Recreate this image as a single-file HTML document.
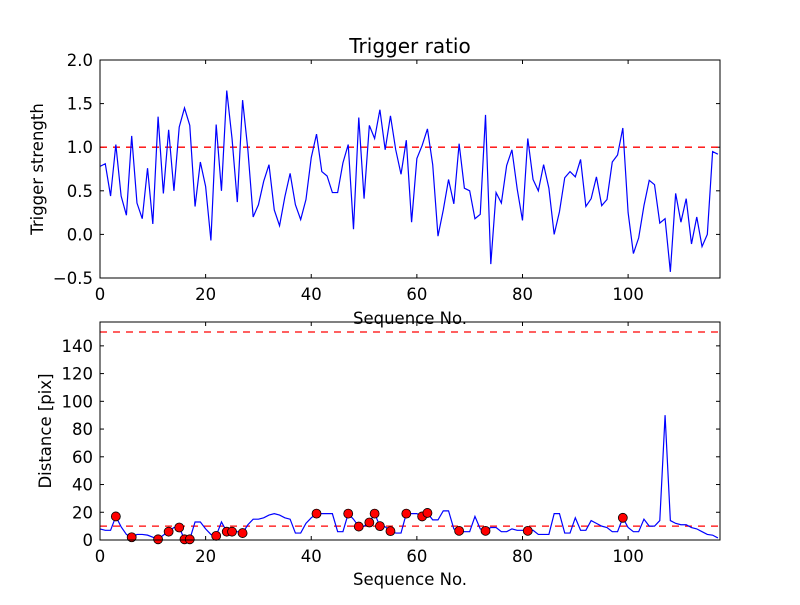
<!DOCTYPE html>
<html><head><meta charset="utf-8"><style>
body{margin:0;background:#fff}
svg text{font-family:"DejaVu Sans","Liberation Sans",sans-serif;fill:#000}
</style></head><body>
<svg id="c" width="800" height="600" xmlns="http://www.w3.org/2000/svg"></svg>
<script>
const trigger=[0.78,0.81,0.44,1.03,0.44,0.22,1.13,0.36,0.18,0.76,0.12,1.35,0.47,1.2,0.5,1.23,1.45,1.25,0.32,0.83,0.55,-0.07,1.26,0.5,1.65,1.1,0.37,1.54,0.97,0.2,0.34,0.61,0.8,0.28,0.1,0.43,0.7,0.34,0.17,0.4,0.88,1.15,0.72,0.67,0.48,0.48,0.82,1.03,0.06,1.34,0.41,1.25,1.1,1.43,0.97,1.36,0.97,0.69,1.08,0.14,0.87,1.02,1.21,0.8,-0.02,0.28,0.63,0.35,1.04,0.53,0.5,0.18,0.23,1.37,-0.34,0.48,0.36,0.79,0.97,0.52,0.16,1.1,0.63,0.5,0.8,0.53,0.0,0.26,0.65,0.72,0.66,0.86,0.32,0.41,0.66,0.33,0.4,0.83,0.91,1.22,0.25,-0.22,-0.04,0.33,0.62,0.57,0.13,0.18,-0.43,0.47,0.14,0.41,-0.11,0.2,-0.14,0.0,0.95,0.92];
const distance=[8,7,7,17,9.5,4,2,4,4,3.5,2,0.5,3.5,6,9,9,0.5,0.5,13,13,8,4,3,13,6,6,6,5,11,15,15,16,18,19,18,16,15,5,5,12,16,19,19,19,19,6,6,19,15,9.7,10,12.6,19,10,9.5,6.4,5,5,19,19,19,17,19.5,14.5,14.5,21,21,8,6.6,6,6,17,8,6.6,9,9,6,6,8,7,7,6.6,7,4,4,4,19,19,5,5,16,7,7,14,12,10,9,6,6,16,9,6,6,15,10,10,14,90,14,12,11,11,9,8,6,4,3.5,1.5];
const detIdx=[3,6,11,13,15,16,17,22,24,25,27,41,47,49,51,52,53,55,58,61,62,68,73,81,99];
const detVal=[17,2,0.5,6,9,0.5,0.5,3,6,6,5,19,19,9.7,12.6,19,10,6.4,19,17,19.5,6.6,6.6,6.6,16];
const xTicks=[0,20,40,60,80,100];
const yTicksTop=[-0.5,0.0,0.5,1.0,1.5,2.0];
const yTicksBot=[0,20,40,60,80,100,120,140];
const ns="http://www.w3.org/2000/svg",svg=document.getElementById('c');
function mk(t,a,txt){const e=document.createElementNS(ns,t);for(const k in a)e.setAttribute(k,a[k]);if(txt!=null)e.textContent=txt;svg.appendChild(e);return e;}
const L=100,R=720,XMAX=117.4;
const sx=v=>L+(v/XMAX)*(R-L);
function axes(top,bot,ymin,ymax,yt,fmt,pre){
 const sy=v=>bot-(v-ymin)/(ymax-ymin)*(bot-top);
 xTicks.forEach(t=>{const x=sx(t);
  let e=mk('line',{x1:x,x2:x,y1:bot,y2:bot-4,stroke:'#000'});
  e=mk('line',{x1:x,x2:x,y1:top,y2:top+4,stroke:'#000'});
  e=mk('text',{x:x,y:bot+22,'text-anchor':'middle','font-size':16.5},String(t));});
 yt.forEach(t=>{const y=sy(t);
  let e=mk('line',{x1:L,x2:L+4,y1:y,y2:y,stroke:'#000'});
  e=mk('line',{x1:R,x2:R-4,y1:y,y2:y,stroke:'#000'});
  e=mk('text',{x:L-7,y:y+6,'text-anchor':'end','font-size':16.5},fmt(t));});
 return sy;
}
let sy1=axes(60,278,-0.5,2.0,yTicksTop,t=>(t<0?'\u2212':'')+Math.abs(t).toFixed(1),'top');
let e=mk('line',{x1:L,x2:R,y1:sy1(1),y2:sy1(1),stroke:'#f00','stroke-width':1.3,'stroke-dasharray':'7,6'});

e=mk('polyline',{points:trigger.map((v,i)=>sx(i)+','+sy1(v)).join(' '),fill:'none',stroke:'#00f','stroke-width':1.2});

e=mk('rect',{x:L,y:60,width:R-L,height:218,fill:'none',stroke:'#000','stroke-width':1});

e=mk('text',{x:410,y:53,'text-anchor':'middle','font-size':20},'Trigger ratio');

e=mk('text',{x:410,y:324,'text-anchor':'middle','font-size':16.5},'Sequence No.');

e=mk('text',{x:43,y:169,'text-anchor':'middle','font-size':16.5,transform:'rotate(-90 43 169)'},'Trigger strength');

let sy2=axes(322,540,0,157.2,yTicksBot,t=>String(t),'bottom');
[150,10].forEach(v=>{const e=mk('line',{x1:L,x2:R,y1:sy2(v),y2:sy2(v),stroke:'#f00','stroke-width':1.3,'stroke-dasharray':'7,6'});
 });
e=mk('polyline',{points:distance.map((v,i)=>sx(i)+','+sy2(v)).join(' '),fill:'none',stroke:'#00f','stroke-width':1.2});

detIdx.forEach((i,k)=>{const c=mk('circle',{cx:sx(i),cy:sy2(detVal[k]),r:4.5,fill:'#f00',stroke:'#000','stroke-width':0.8});
 });
e=mk('rect',{x:L,y:322,width:R-L,height:218,fill:'none',stroke:'#000','stroke-width':1});

e=mk('text',{x:410,y:585,'text-anchor':'middle','font-size':16.5},'Sequence No.');

e=mk('text',{x:51,y:431,'text-anchor':'middle','font-size':16.5,transform:'rotate(-90 51 431)'},'Distance [pix]');

</script>
</body></html>
